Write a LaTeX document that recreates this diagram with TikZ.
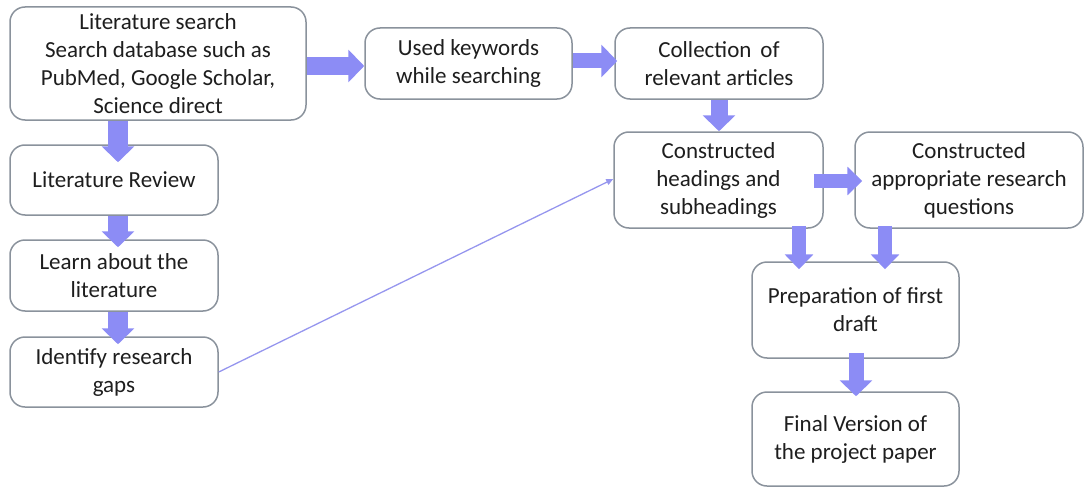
\documentclass[tikz,border=0pt]{standalone}
\usepackage{fontspec}
\setmainfont{Carlito}
\usetikzlibrary{arrows.meta}
\definecolor{flow}{RGB}{140,140,245}
\definecolor{thinflow}{RGB}{150,150,238}
\definecolor{frame}{RGB}{138,146,156}
\definecolor{ink}{RGB}{30,30,30}
\tikzset{
  stepbox/.style={draw=frame, line width=1.5pt, rounded corners=15pt, fill=white,
    align=center, inner sep=2pt, text=ink,
    font=\fontsize{23}{28}\selectfont},
  blk/.style={draw=flow, line width=#1, -{Triangle[length=16pt, width=32pt]}},
  blk/.default=18pt,
  blks/.style={draw=flow, line width=14pt, -{Triangle[length=15pt, width=28pt]}},
  thin/.style={draw=thinflow, line width=1.3pt, -{Triangle[length=7pt, width=6pt]}}
}
\begin{document}
\begin{tikzpicture}[x=1pt, y=-1pt]
\useasboundingbox (0,0) rectangle (1084,487);

% left column
\node[stepbox, minimum width=296pt, minimum height=113pt] (search) at (158,63.5)
  {Literature search\\Search database such as\\PubMed, Google Scholar,\\Science direct};
\node[stepbox, minimum width=208pt, minimum height=70pt] (review) at (114,180) {Literature Review};
\node[stepbox, minimum width=208pt, minimum height=71pt] (learn) at (114,275.5) {Learn about the\\literature};
\node[stepbox, minimum width=208pt, minimum height=70pt] (gaps) at (114,372) {Identify research\\gaps};

% top row
\node[stepbox, minimum width=207pt, minimum height=71pt] (keywords) at (468.5,63.5) {Used keywords\\while searching};
\node[stepbox, minimum width=208pt, minimum height=71pt] (collect) at (719,63.5) {Collection\, of\\relevant articles};

% right part
\node[stepbox, minimum width=209pt, minimum height=96pt] (headings) at (718.5,180) {Constructed\\headings and\\subheadings};
\node[stepbox, minimum width=228pt, minimum height=96pt] (questions) at (969,180) {Constructed\\appropriate research\\questions};
\node[stepbox, minimum width=207pt, minimum height=96pt] (draft) at (855.5,310) {Preparation of first\\draft};
\node[stepbox, minimum width=207pt, minimum height=94pt] (final) at (855.5,439) {Final Version of\\the project paper};

% block arrows, drawn over the box frames
\draw[blk=20pt] (search.south -| 118,0) -- ([yshift=-18pt]review.north -| 118,0);
\draw[blk=20pt] (review.south -| 118,0) -- ([yshift=-8pt]learn.north -| 118,0);
\draw[blk=20pt] (learn.south -| 118,0) -- ([yshift=-8pt]gaps.north -| 118,0);
\draw[blk] (search.east |- 0,66) -- (keywords.west |- 0,66);
\draw[blk=15pt] (keywords.east |- 0,61) -- ([xshift=3pt]collect.west |- 0,61);
\draw[blk=17pt] (collect.south -| 719,0) -- (headings.north -| 719,0);
\draw[blks] ([xshift=-10pt]headings.east |- 0,181) -- ([xshift=8pt]questions.west |- 0,181);
\draw[blks] ([yshift=3pt]headings.south -| 799,0) -- ([yshift=-8pt]draft.north -| 799,0);
\draw[blks] ([yshift=3pt]questions.south -| 885,0) -- ([yshift=-8pt]draft.north -| 885,0);
\draw[blk=15pt] ([yshift=6pt]draft.south -| 856,0) -- ([yshift=-5pt]final.north -| 856,0);

% thin link from the research gaps to the headings
\draw[thin] (gaps.east) -- ([yshift=1pt]headings.west);
\end{tikzpicture}
\end{document}
